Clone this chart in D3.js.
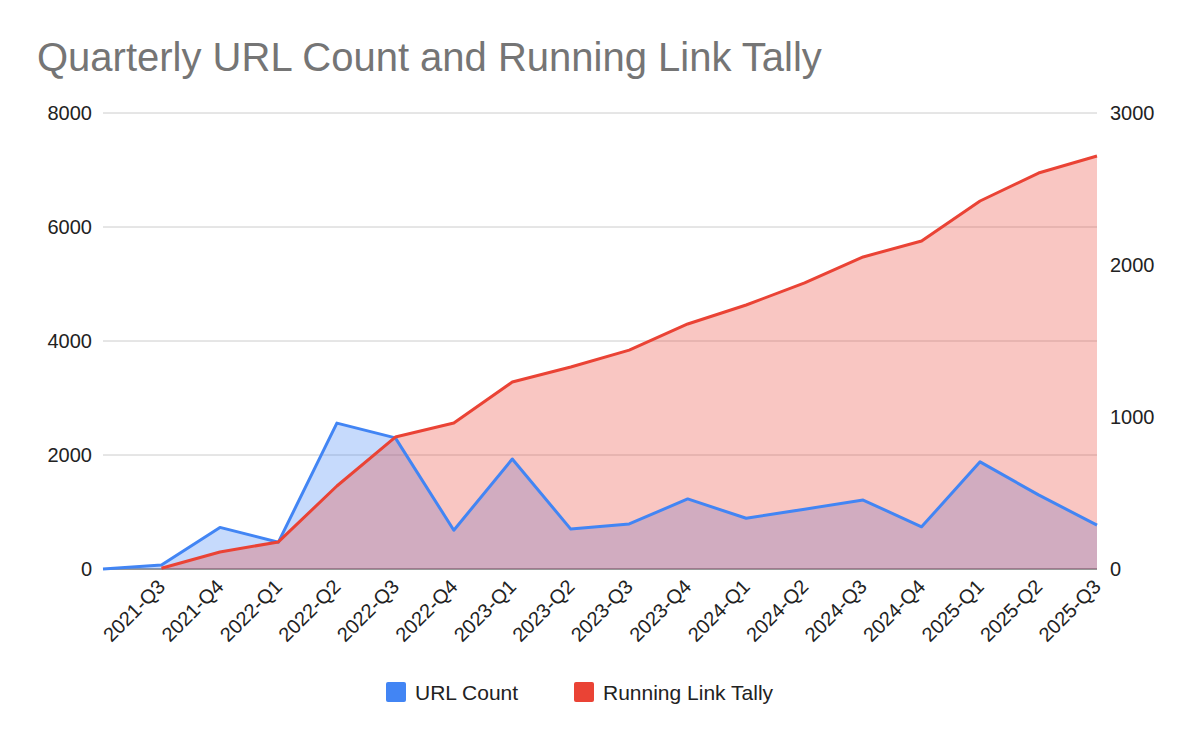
<!DOCTYPE html>
<html><head><meta charset="utf-8">
<script src="https://cdn.jsdelivr.net/npm/d3@7"></script>
<style>body{margin:0;background:#fff}svg{font-family:"Liberation Sans",Arial,sans-serif}</style>
</head><body><svg id="c" width="1200" height="742"></svg>
<script>
const quarters = ["", "2021-Q3","2021-Q4","2022-Q1","2022-Q2","2022-Q3","2022-Q4","2023-Q1","2023-Q2","2023-Q3","2023-Q4","2024-Q1","2024-Q2","2024-Q3","2024-Q4","2025-Q1","2025-Q2","2025-Q3"]
const urlCount = [0,70,730,470,2560,2300,680,1930,700,790,1230,890,1050,1210,740,1880,1300,770]
const linkTally = [null,5,112,178,546,868,960,1230,1329,1440,1612,1737,1882,2053,2158,2421,2605,2717]
const leftTicks = [0,2000,4000,6000,8000]
const rightTicks = [0,1000,2000,3000]

const svg = d3.select('#c')
const x = d3.scalePoint().domain(d3.range(quarters.length)).range([103,1097])
const yL = d3.scaleLinear().domain([0,8000]).range([569,113])
const yR = d3.scaleLinear().domain([0,3000]).range([569,113])

svg.append('text').attr('x',37).attr('y',71).attr('font-size',40).attr('fill','#757575').text('Quarterly URL Count and Running Link Tally')

svg.selectAll('.grid').data(leftTicks).join('line')
    .attr('x1',103).attr('x2',1097).attr('y1',d=>yL(d)).attr('y2',d=>yL(d))
    .attr('stroke',d=>d===0?'#333':'#ccc').attr('stroke-width',1)

svg.selectAll('.lt').data(leftTicks).join('text')
    .attr('x',92).attr('y',d=>yL(d)+7).attr('text-anchor','end').attr('font-size',20).attr('fill','#222').text(d=>d)
svg.selectAll('.rt').data(rightTicks).join('text')
    .attr('x',1110).attr('y',d=>yR(d)+7).attr('font-size',20).attr('fill','#222').text(d=>d)

const blue = '#4285f4', red = '#ea4335'
const bArea = d3.area().x((d,i)=>x(i)).y0(yL(0)).y1(d=>yL(d))
const bLine = d3.line().x((d,i)=>x(i)).y(d=>yL(d))
const rArea = d3.area().defined(d=>d!==null).x((d,i)=>x(i)).y0(yR(0)).y1(d=>yR(d))
const rLine = d3.line().defined(d=>d!==null).x((d,i)=>x(i)).y(d=>yR(d))

svg.append('path').attr('d',bArea(urlCount)).attr('fill',blue).attr('opacity',0.3)
svg.append('path').attr('d',rArea(linkTally)).attr('fill',red).attr('opacity',0.3)
svg.append('path').attr('d',bLine(urlCount)).attr('fill','none').attr('stroke',blue).attr('stroke-width',3).attr('stroke-linejoin','round')
svg.append('path').attr('d',rLine(linkTally)).attr('fill','none').attr('stroke',red).attr('stroke-width',3).attr('stroke-linejoin','round')

svg.selectAll('.xl').data(quarters).join('text')
    .attr('transform',(d,i)=>`translate(${x(i)+5},${588}) rotate(-45)`)
    .attr('text-anchor','end').attr('font-size',20).attr('fill','#222').text(d=>d)

const legend = [['URL Count',blue,386],['Running Link Tally',red,574]]
legend.forEach(([t,c,lx])=>{
    svg.append('rect').attr('x',lx).attr('y',682).attr('width',20).attr('height',20).attr('rx',2).attr('fill',c)
    svg.append('text').attr('x',lx+29).attr('y',700).attr('font-size',21).attr('fill','#222').text(t)
})
</script></body></html>
